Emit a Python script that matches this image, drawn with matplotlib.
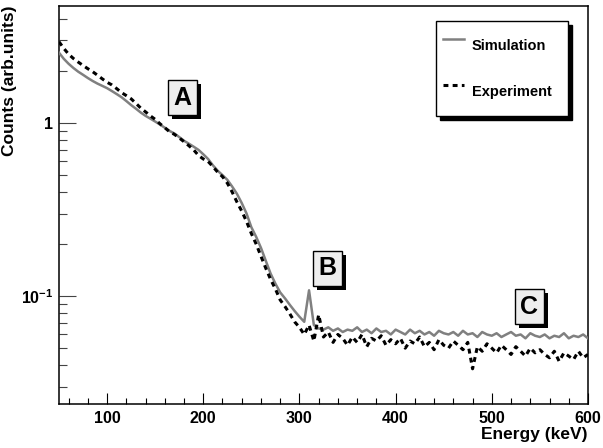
import matplotlib
matplotlib.use('Agg')
import matplotlib.pyplot as plt
import matplotlib.patheffects as pe
from matplotlib.ticker import FixedLocator, LogLocator, NullFormatter
import numpy as np

plt.rcParams['font.family'] = ['Liberation Sans', 'DejaVu Sans']
plt.rcParams['font.weight'] = 'bold'
plt.rcParams['mathtext.fontset'] = 'custom'
plt.rcParams['mathtext.rm'] = 'Liberation Sans:bold'
plt.rcParams['mathtext.bf'] = 'Liberation Sans:bold'
plt.rcParams['mathtext.default'] = 'bf'

# energy bins (keV), 5 keV steps
energy = np.arange(50, 601, 5)

simulation = [
    2.55, 2.35, 2.20, 2.08, 1.98, 1.90, 1.82, 1.75, 1.69, 1.64, 1.59,
    1.53, 1.47, 1.41, 1.34, 1.27, 1.21, 1.15, 1.10, 1.06, 1.02,
    0.98, 0.94, 0.90, 0.87, 0.83, 0.79, 0.76, 0.73, 0.70, 0.66,
    0.62, 0.57, 0.53, 0.50, 0.47, 0.43, 0.39, 0.345, 0.30, 0.25,
    0.22, 0.19, 0.16, 0.135, 0.118, 0.105, 0.097, 0.089, 0.082, 0.076,
    0.071, 0.108, 0.068, 0.065, 0.064, 0.066, 0.063, 0.065, 0.062, 0.064,
    0.063, 0.066, 0.062, 0.064, 0.061, 0.065, 0.062, 0.063, 0.060, 0.064,
    0.062, 0.060, 0.064, 0.061, 0.063, 0.060, 0.062, 0.059, 0.063, 0.061,
    0.060, 0.062, 0.059, 0.063, 0.060, 0.061, 0.058, 0.062, 0.060, 0.059,
    0.061, 0.058, 0.060, 0.062, 0.059, 0.060, 0.057, 0.061, 0.059, 0.058,
    0.060, 0.057, 0.059, 0.058, 0.061, 0.057, 0.059, 0.058, 0.060, 0.057,
]

experiment = [
    2.95, 2.70, 2.50, 2.36, 2.25, 2.15, 2.06, 1.98, 1.89, 1.80, 1.72,
    1.66, 1.58, 1.50, 1.44, 1.38, 1.30, 1.22, 1.16, 1.10, 1.05,
    0.99, 0.94, 0.89, 0.86, 0.82, 0.78, 0.74, 0.70, 0.65, 0.62,
    0.60, 0.56, 0.52, 0.49, 0.45, 0.40, 0.35, 0.31, 0.27, 0.23,
    0.20, 0.17, 0.145, 0.125, 0.11, 0.095, 0.087, 0.079, 0.071, 0.066,
    0.060, 0.068, 0.055, 0.078, 0.058, 0.062, 0.054, 0.060, 0.057, 0.052,
    0.058, 0.054, 0.060, 0.051, 0.057, 0.055, 0.059, 0.052, 0.056, 0.053,
    0.057, 0.050, 0.055, 0.053, 0.058, 0.051, 0.054, 0.049, 0.056, 0.052,
    0.050, 0.055, 0.052, 0.049, 0.054, 0.038, 0.051, 0.048, 0.053, 0.050,
    0.047, 0.052, 0.049, 0.046, 0.051, 0.048, 0.045, 0.050, 0.047, 0.049,
    0.046, 0.044, 0.048, 0.042, 0.047, 0.045, 0.043, 0.048, 0.044, 0.046,
]

# region labels: (text, energy, counts)
region_names = ['A', 'B', 'C']
region_x = [178, 329, 539]
region_y = [1.40, 0.145, 0.087]

fig = plt.figure(figsize=(6.03, 4.48), dpi=100)
ax = fig.add_axes([0.0978, 0.098, 0.8773, 0.8888])

ax.plot(energy, simulation, color='#808080', lw=1.8, label='Simulation', zorder=3)
ax.plot(energy, experiment, color='black', lw=2.2, linestyle=(0, (1.6, 1.4)),
        label='Experiment', zorder=4)

ax.set_yscale('log')
ax.set_xlim(50, 600)
ax.set_ylim(0.02376, 4.75)

ax.xaxis.set_major_locator(FixedLocator([100, 200, 300, 400, 500, 600]))
ax.xaxis.set_minor_locator(FixedLocator(np.arange(60, 600, 20)))
ax.yaxis.set_major_locator(FixedLocator([0.1, 1]))
ax.set_yticklabels([r'$10^{-1}$', '1'])
ax.yaxis.set_minor_locator(LogLocator(base=10, subs=np.arange(2, 10)))
ax.yaxis.set_minor_formatter(NullFormatter())

ax.tick_params(axis='x', which='major', direction='in', length=8, width=0.8,
               labelsize=11.5, pad=5, top=False)
ax.tick_params(axis='x', which='minor', direction='in', length=4, width=0.8, top=False)
ax.tick_params(axis='y', which='major', direction='in', length=12, width=0.8,
               color='#444444', labelsize=11.5, pad=4, right=False)
ax.tick_params(axis='y', which='minor', direction='in', length=6, width=0.8,
               color='#444444', right=False)

for s in ax.spines.values():
    s.set_linewidth(1.1)

ax.set_xlabel('Energy (keV)', fontsize=12.5, fontweight='bold', loc='right')
ax.xaxis.set_label_coords(1.0, -0.058)
ax.set_ylabel('Counts (arb.units)', fontsize=12.5, fontweight='bold', loc='top')
ax.yaxis.set_label_coords(-0.079, 1.0)

# boxed region labels with black drop shadow
for name, xv, yv in zip(region_names, region_x, region_y):
    t = ax.text(xv, yv, name, fontsize=18, fontweight='bold', ha='center', va='center',
                zorder=6, bbox=dict(boxstyle='square,pad=0.22', fc='#eeeeee', ec='black', lw=1))
    t.get_bbox_patch().set_path_effects([
        pe.SimplePatchShadow(offset=(3, -3), shadow_rgbFace='black', alpha=1),
        pe.Normal()])

leg = ax.legend(loc='upper left', bbox_to_anchor=(0.7127, 0.717, 0.249, 0.245),
                mode='expand', fontsize=10.5, frameon=True, fancybox=False,
                edgecolor='black', framealpha=1, borderpad=0.45,
                handlelength=1.5, handleheight=3.4, handletextpad=0.5,
                labelspacing=0.71, borderaxespad=0,
                shadow={'color': 'black', 'alpha': 1, 'ox': 3, 'oy': -3})
leg.get_frame().set_linewidth(1)
for t in leg.get_texts():
    t.set_fontweight('bold')
leg.set_zorder(10)

fig.savefig('out.png', dpi=100)
